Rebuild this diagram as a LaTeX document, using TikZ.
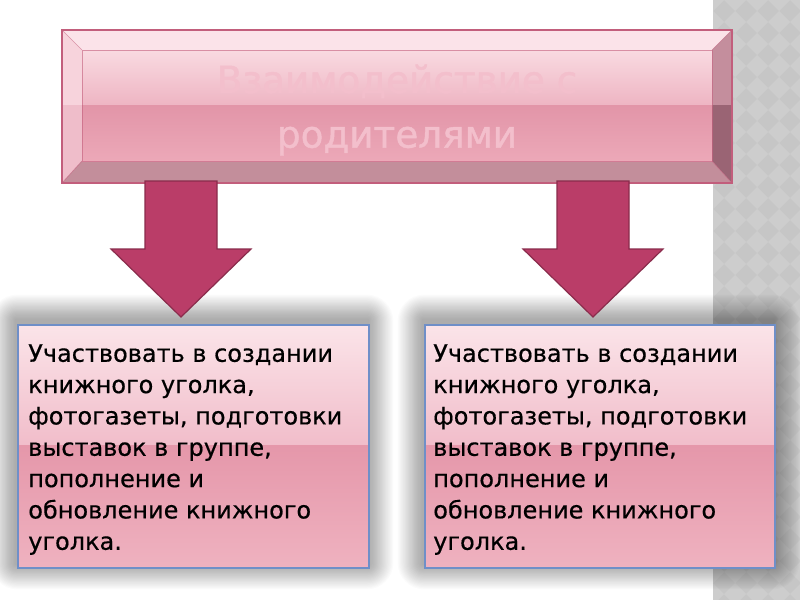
\documentclass[tikz,border=0pt]{standalone}
\usepackage{fontspec}
\setmainfont{DejaVu Sans}
\newfontfamily\boxfont[FakeBold=0.5]{DejaVu Sans}
\newfontfamily\titlefont[FakeBold=1.2]{DejaVu Sans}
\usetikzlibrary{calc}
\definecolor{stripbase}{HTML}{C6C6C6}
\definecolor{striplight}{HTML}{CDCDCD}
\definecolor{bevtop}{HTML}{FBE3E9}
\definecolor{bevleftA}{HTML}{F7D3DC}
\definecolor{bevleftB}{HTML}{EFBDCA}
\definecolor{bevrightA}{HTML}{C48E9D}
\definecolor{bevrightB}{HTML}{9A6474}
\definecolor{bevbottom}{HTML}{C38E9B}
\definecolor{faceA}{HTML}{F9DAE1}
\definecolor{faceB}{HTML}{EEB5C3}
\definecolor{faceC}{HTML}{E295A8}
\definecolor{faceD}{HTML}{ECA8B8}
\definecolor{topline}{HTML}{C25E7C}
\definecolor{titletext}{HTML}{F3BFCC}
\definecolor{arrowfill}{HTML}{BA3D68}
\definecolor{arrowline}{HTML}{8A2C4C}
\definecolor{boxA}{HTML}{FBE4E9}
\definecolor{boxB}{HTML}{F1BDCA}
\definecolor{boxC}{HTML}{E597AA}
\definecolor{boxD}{HTML}{EFB2C0}
\definecolor{boxline}{HTML}{6F8FC8}
\tikzset{
  boxtext/.style={font=\boxfont\fontsize{18}{23.5}\selectfont, align=left, inner sep=0pt, text=black, anchor=north west},
  titlestyle/.style={font=\titlefont\fontsize{28}{41}\selectfont, align=center, inner sep=0pt, text=titletext},
  blockarrow/.style={fill=arrowfill, draw=arrowline, line width=0.9pt, line join=miter},
}
\newcommand\mysoftshadow[4]{%
  \foreach \k in {1,...,22}{%
    \fill[black, opacity=0.017, rounded corners=\k*0.9pt] (#1-\k*1.15-2,#2-\k*1.15-5) rectangle (#3+\k*1.15-1,#4+\k*1.15-4);
  }}
\newcommand\myblockarrow[1]{%
  \draw[blockarrow] (#1-36,181) -- (#1+36,181) -- (#1+36,249) -- (#1+70,249) -- (#1,317) -- (#1-70,249) -- (#1-36,249) -- cycle;}
\begin{document}
\begin{tikzpicture}[x=0.75pt, y=-0.75pt]
\useasboundingbox (0,0) rectangle (800,600);
\fill[white] (0,0) rectangle (800,600);
% checkered strip
\begin{scope}
  \clip (713,0) rectangle (800,600);
  \fill[stripbase] (713,0) rectangle (800,600);
  \foreach \i in {0,...,4}{
    \foreach \j in {0,...,28}{
      \fill[striplight] (713+\i*22,\j*22-11) -- (713+\i*22+11,\j*22) -- (713+\i*22,\j*22+11) -- (713+\i*22-11,\j*22) -- cycle;
    }
  }
\end{scope}
% shadows of the lower boxes
\mysoftshadow{18}{325}{369}{568}
\mysoftshadow{425}{325}{775}{568}
% top bevelled box
\fill[bevtop] (62,30) -- (732,30) -- (712,50) -- (82,50) -- cycle;
\fill[bevleftA] (62,30) -- (82,50) -- (82,105) -- (62,105) -- cycle;
\fill[bevleftB] (62,105) -- (82,105) -- (82,161) -- (62,183) -- cycle;
\fill[bevrightA] (732,30) -- (712,50) -- (712,105) -- (732,105) -- cycle;
\fill[bevrightB] (732,105) -- (712,105) -- (712,161) -- (732,183) -- cycle;
\fill[bevbottom] (62,183) -- (82,161) -- (712,161) -- (732,183) -- cycle;
\shade[top color=faceA, bottom color=faceB] (82,50) rectangle (712,105);
\shade[top color=faceC, bottom color=faceD] (82,105) rectangle (712,161);
\draw[topline, line width=0.5pt, opacity=0.6] (62,30) -- (82,50) (732,30) -- (712,50) (62,183) -- (82,161) (732,183) -- (712,161);
\draw[topline, line width=0.5pt, opacity=0.6] (82,50) rectangle (712,161);
\draw[topline, line width=1pt] (62,30) rectangle (732,183);
\node[titlestyle] (title) at (397,110) {Взаимодействие с\\родителями};
% arrows
\myblockarrow{181}
\myblockarrow{593}
% lower boxes
\shade[top color=boxA, bottom color=boxB] (18,325) rectangle (369,445);
\shade[top color=boxC, bottom color=boxD] (18,445) rectangle (369,568);
\draw[boxline, line width=0.8pt] (18,325) rectangle (369,568);
\node[boxtext] (lefttext) at (28,344) {Участвовать в создании\\книжного уголка,\\фотогазеты, подготовки\\выставок в группе,\\пополнение и\\обновление книжного\\уголка.};
\shade[top color=boxA, bottom color=boxB] (425,325) rectangle (775,445);
\shade[top color=boxC, bottom color=boxD] (425,445) rectangle (775,568);
\draw[boxline, line width=0.8pt] (425,325) rectangle (775,568);
\node[boxtext] (righttext) at (433,344) {Участвовать в создании\\книжного уголка,\\фотогазеты, подготовки\\выставок в группе,\\пополнение и\\обновление книжного\\уголка.};
\end{tikzpicture}
\end{document}
